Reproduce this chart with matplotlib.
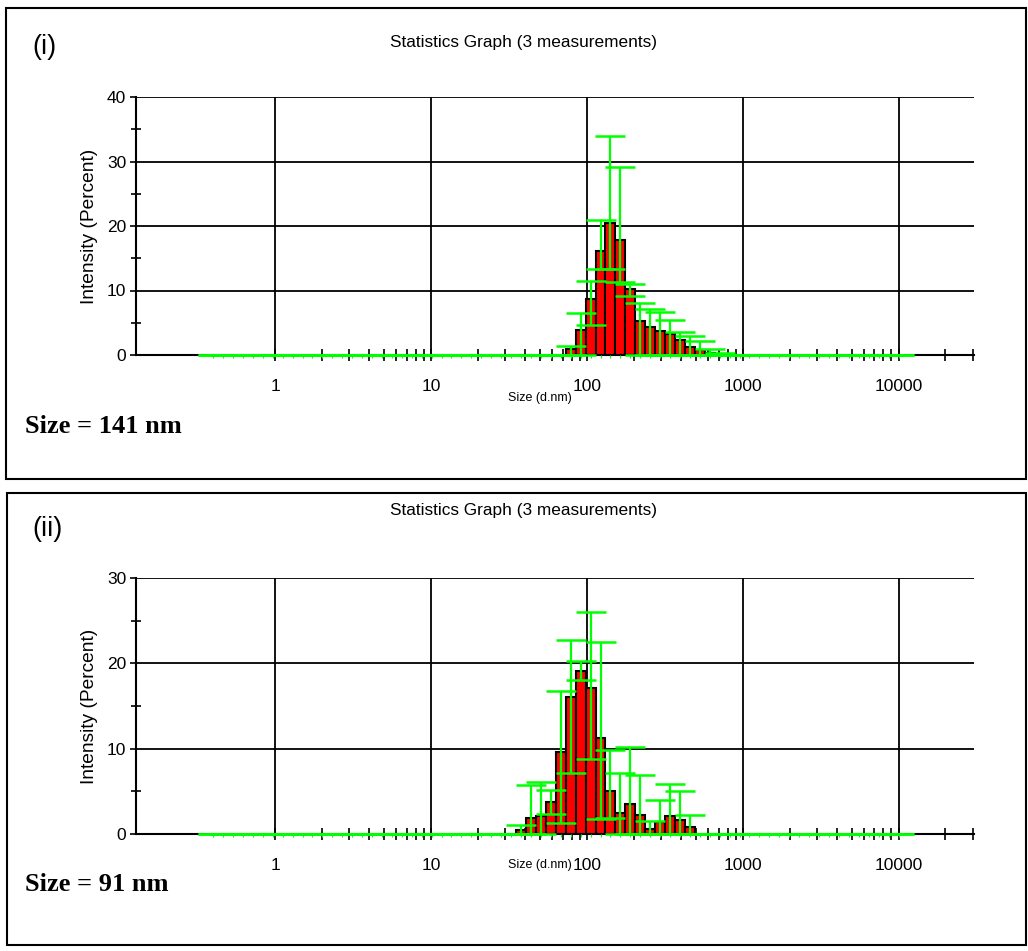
import numpy as np
import matplotlib
matplotlib.use("Agg")
import matplotlib.pyplot as plt
from matplotlib.patches import Rectangle
from matplotlib.ticker import FixedLocator, NullFormatter


# size classes (d.nm) of the instrument
sizes = [
    0.4000, 0.4632, 0.5365, 0.6213, 0.7195, 0.8332, 0.9649, 1.117, 1.294, 1.499,
    1.736, 2.010, 2.328, 2.696, 3.122, 3.615, 4.187, 4.849, 5.615, 6.503,
    7.531, 8.721, 10.10, 11.70, 13.54, 15.69, 18.17, 21.04, 24.36, 28.21,
    32.67, 37.84, 43.82, 50.75, 58.77, 68.06, 78.82, 91.28, 105.7, 122.4,
    141.8, 164.2, 190.1, 220.2, 255.0, 295.3, 342.0, 396.1, 458.7, 531.2,
    615.1, 712.4, 825.0, 955.4, 1106, 1281, 1484, 1718, 1990, 2305,
    2669, 3091, 3580, 4145, 4801, 5560, 6439, 7456, 8635, 10000,
]

# sample (i): mean intensity and error-bar limits per size class
mean_1 = [
    0, 0, 0, 0, 0, 0, 0, 0, 0, 0,
    0, 0, 0, 0, 0, 0, 0, 0, 0, 0,
    0, 0, 0, 0, 0, 0, 0, 0, 0, 0,
    0, 0, 0, 0, 0, 0, 0.9, 3.8, 8.7, 16.2,
    20.5, 17.8, 10.3, 5.3, 4.3, 3.7, 3.2, 2.4, 1.3, 0.8,
    0.35, 0.15, 0, 0, 0, 0, 0, 0, 0, 0,
    0, 0, 0, 0, 0, 0, 0, 0, 0, 0,
]
high_1 = [
    0, 0, 0, 0, 0, 0, 0, 0, 0, 0,
    0, 0, 0, 0, 0, 0, 0, 0, 0, 0,
    0, 0, 0, 0, 0, 0, 0, 0, 0, 0,
    0, 0, 0, 0, 0, 0, 1.35, 6.5, 11.5, 21.0,
    33.9, 29.1, 11.0, 8.0, 7.1, 6.6, 5.5, 3.5, 2.9, 2.1,
    1.0, 0.25, 0, 0, 0, 0, 0, 0, 0, 0,
    0, 0, 0, 0, 0, 0, 0, 0, 0, 0,
]
low_1 = [
    0, 0, 0, 0, 0, 0, 0, 0, 0, 0,
    0, 0, 0, 0, 0, 0, 0, 0, 0, 0,
    0, 0, 0, 0, 0, 0, 0, 0, 0, 0,
    0, 0, 0, 0, 0, 0, 0, 0, 4.6, 13.4,
    13.4, 11.3, 9.1, 0, 0, 0, 0, 0, 0, 0,
    0, 0, 0, 0, 0, 0, 0, 0, 0, 0,
    0, 0, 0, 0, 0, 0, 0, 0, 0, 0,
]

# sample (ii)
mean_2 = [
    0, 0, 0, 0, 0, 0, 0, 0, 0, 0,
    0, 0, 0, 0, 0, 0, 0, 0, 0, 0,
    0, 0, 0, 0, 0, 0, 0, 0, 0, 0,
    0, 0.45, 1.9, 2.1, 3.7, 9.6, 16.1, 19.1, 17.1, 11.2,
    5.0, 2.5, 3.5, 2.2, 0.6, 1.4, 2.1, 1.6, 0.8, 0,
    0, 0, 0, 0, 0, 0, 0, 0, 0, 0,
    0, 0, 0, 0, 0, 0, 0, 0, 0, 0,
]
high_2 = [
    0, 0, 0, 0, 0, 0, 0, 0, 0, 0,
    0, 0, 0, 0, 0, 0, 0, 0, 0, 0,
    0, 0, 0, 0, 0, 0, 0, 0, 0, 0,
    0, 1.1, 5.7, 6.1, 5.1, 16.7, 22.7, 20.3, 26.0, 22.5,
    9.8, 7.1, 10.2, 6.9, 1.5, 4.0, 5.9, 5.0, 2.2, 0,
    0, 0, 0, 0, 0, 0, 0, 0, 0, 0,
    0, 0, 0, 0, 0, 0, 0, 0, 0, 0,
]
low_2 = [
    0, 0, 0, 0, 0, 0, 0, 0, 0, 0,
    0, 0, 0, 0, 0, 0, 0, 0, 0, 0,
    0, 0, 0, 0, 0, 0, 0, 0, 0, 0,
    0, 0, 0, 0, 2.4, 1.25, 7.1, 18.1, 8.75, 1.7,
    1.9, 0, 0, 0, 0, 0, 0, 0, 0, 0,
    0, 0, 0, 0, 0, 0, 0, 0, 0, 0,
    0, 0, 0, 0, 0, 0, 0, 0, 0, 0,
]

panel_tags = ["(i)", "(ii)"]
size_notes = ["Size = 141 nm", "Size = 91 nm"]
y_tops = [40, 30]
x_major = [1, 10, 100, 1000, 10000]
x_labels = ["1", "10", "100", "1000", "10000"]

W, H = 1028, 951
fig = plt.figure(figsize=(W / 100, H / 100), dpi=100)
plt.rcParams["font.family"] = ["Liberation Sans", "DejaVu Sans"]

GREEN = "#00ff00"


def fx(px):
    return px / W


def fy(py):
    return 1 - py / H


s = np.array(sizes)
edges = np.sqrt(s[:-1] * s[1:])
lo_edge = np.concatenate([[s[0] ** 2 / edges[0]], edges])
hi_edge = np.concatenate([edges, [s[-1] ** 2 / edges[-1]]])

minor_x = [m * d for d in [1, 10, 100, 1000] for m in range(2, 10)] + [20000, 30000]


def draw_panel(ax, mean, low, high, ytop):
    mean = np.array(mean)
    low = np.array(low)
    high = np.array(high)
    ax.set_xscale("log")
    ax.set_xlim(0.128, 30500)
    ax.set_ylim(0, ytop)

    nz = mean > 0
    ax.bar(lo_edge[nz], mean[nz], width=(hi_edge - lo_edge)[nz], align="edge",
           color="#ff0000", edgecolor="black", linewidth=1.5, zorder=2)

    eb = ax.errorbar(s, mean, yerr=[mean - low, high - mean], fmt="none",
                     ecolor=GREEN, elinewidth=1.6, capsize=10.5, capthick=1.8,
                     zorder=4)
    for art in list(eb.lines[1]) + list(eb.lines[2]):
        art.set_clip_on(False)
    ax.plot(s, np.zeros_like(s), linestyle="none", marker=3, markersize=2.5,
            markeredgewidth=0.8, color=GREEN, clip_on=False, zorder=4)

    # grid
    for v in range(10, ytop + 1, 10):
        ax.axhline(v, color="black", lw=1.3, zorder=1)
    for v in x_major:
        ax.axvline(v, color="black", lw=1.3, zorder=1)

    ax.spines["right"].set_visible(False)
    ax.spines["top"].set_visible(False)
    ax.spines["left"].set_linewidth(1.5)
    ax.spines["bottom"].set_linewidth(1.5)

    ax.xaxis.set_major_locator(FixedLocator(x_major))
    ax.set_xticklabels(x_labels)
    ax.xaxis.set_minor_locator(FixedLocator(minor_x))
    ax.xaxis.set_minor_formatter(NullFormatter())
    ax.tick_params(axis="x", which="both", direction="inout", length=8,
                   width=1.2, pad=13, labelsize=12.5)

    ax.set_yticks(range(0, ytop + 1, 10))
    ax.set_yticks(range(5, ytop, 10), minor=True)
    ax.tick_params(axis="y", which="major", direction="out", length=4,
                   width=1.2, pad=3, labelsize=12.5)
    ax.tick_params(axis="y", which="minor", direction="inout", length=7,
                   width=1.2)
    ax.set_facecolor("white")


panels = [
    dict(mean=mean_1, low=low_1, high=high_1, top=97, bottom=355,
         box=(6, 8, 1026, 479), tag_y=47, title_y=42, xl_y=398, note_y=433),
    dict(mean=mean_2, low=low_2, high=high_2, top=578, bottom=834,
         box=(7, 493, 1026, 945), tag_y=529, title_y=510, xl_y=865, note_y=891),
]

for i, p in enumerate(panels):
    x0, y0, x1, y1 = p["box"]
    fig.patches.append(Rectangle((fx(x0), fy(y1)), fx(x1 - x0), (y1 - y0) / H,
                                 transform=fig.transFigure, fill=False,
                                 edgecolor="black", linewidth=1.5))

    ax = fig.add_axes([fx(136), fy(p["bottom"]), fx(974 - 136),
                       (p["bottom"] - p["top"]) / H])
    draw_panel(ax, p["mean"], p["low"], p["high"], y_tops[i])

    fig.text(fx(32), fy(p["tag_y"]), panel_tags[i], fontsize=19.5,
             ha="left", va="center")
    fig.text(fx(523), fy(p["title_y"]), "Statistics Graph (3 measurements)",
             fontsize=12.4, ha="center", va="center")
    fig.text(fx(89), fy((p["top"] + p["bottom"]) / 2), "Intensity (Percent)",
             fontsize=13.8, rotation=90, ha="center", va="center")
    fig.text(fx(540), fy(p["xl_y"]), "Size (d.nm)", fontsize=9,
             ha="center", va="center")
    fig.text(fx(25), fy(p["note_y"]), size_notes[i], fontsize=19,
             fontweight="bold", family=["Liberation Serif", "DejaVu Serif"],
             ha="left", va="baseline")

fig.savefig("out.png", dpi=100, facecolor="white")
